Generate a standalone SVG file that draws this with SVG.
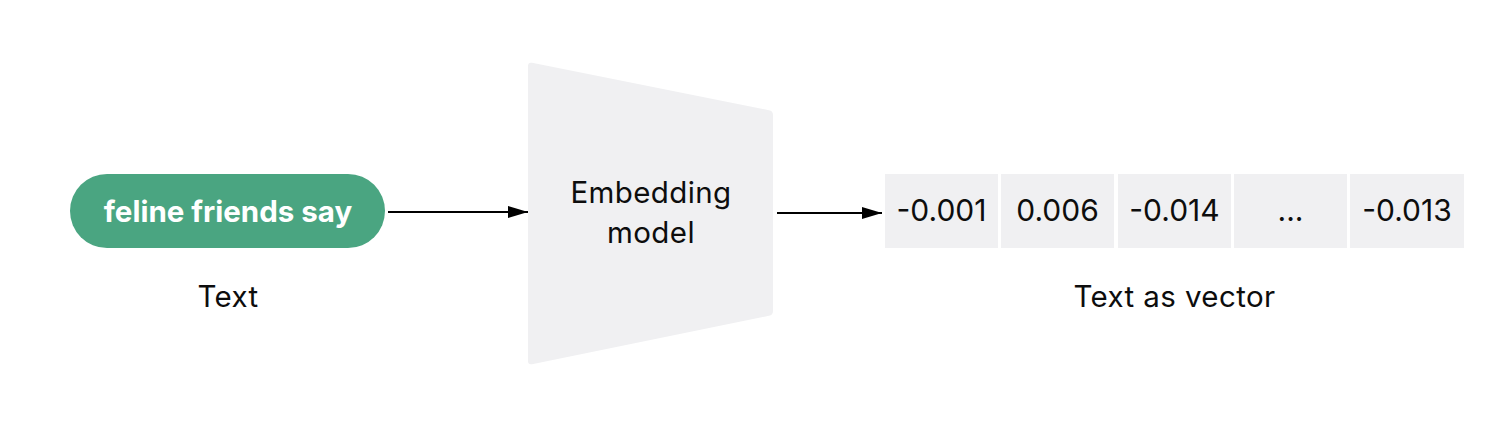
<svg xmlns="http://www.w3.org/2000/svg" width="1494" height="436" viewBox="0 0 1494 436">
  <style>
    .lbl { font-family: Inter, "Noto Sans", "Liberation Sans", sans-serif; font-size: 29.5px; letter-spacing: 0.4px; fill: #0d0d0d; text-anchor: middle; }
    .num { font-family: Inter, "Noto Sans", "Liberation Sans", sans-serif; font-size: 30px; fill: #0d0d0d; text-anchor: middle; }
    .pilltxt { font-family: Inter, "Noto Sans", "Liberation Sans", sans-serif; font-size: 29.5px; font-weight: 700; fill: #ffffff; text-anchor: middle; }
    .cell { fill: #f0f0f2; }
    .conn { stroke: #000; stroke-width: 2; fill: none; }
  </style>
  <defs>
    <marker id="arrow" viewBox="0 0 20 12" refX="20" refY="6" markerWidth="20" markerHeight="12" markerUnits="userSpaceOnUse" orient="auto">
      <path d="M0,0 L20,6 L0,12 Z" fill="#000"/>
    </marker>
  </defs>
  <rect width="1494" height="436" fill="#ffffff"/>

  <g id="input-text">
    <rect x="70" y="174" width="315" height="74" rx="37" ry="37" fill="#4aa581"/>
    <text class="pilltxt" x="228" y="222">feline friends say</text>
    <text class="lbl" x="228" y="307">Text</text>
  </g>

  <g id="embedding-model">
    <path d="M532,62.8 L769,110.2 Q773,111 773,115 L773,311 Q773,315 769,315.8 L532,364.2 Q528,365 528,361 L528,66 Q528,62 532,62.8 Z" fill="#f0f0f2"/>
    <text class="lbl" x="651" y="203">Embedding</text>
    <text class="lbl" x="651" y="243">model</text>
  </g>

  <g id="vector">
    <rect class="cell" x="885" y="174" width="113" height="74"/>
    <rect class="cell" x="1001" y="174" width="113" height="74"/>
    <rect class="cell" x="1118" y="174" width="113" height="74"/>
    <rect class="cell" x="1234" y="174" width="113" height="74"/>
    <rect class="cell" x="1350" y="174" width="114" height="74"/>
    <text class="num" x="941.5" y="221">-0.001</text>
    <text class="num" x="1057.5" y="221">0.006</text>
    <text class="num" x="1174.5" y="221">-0.014</text>
    <text class="num" x="1290.5" y="221" font-size="22">...</text>
    <text class="num" x="1407" y="221">-0.013</text>
    <text class="lbl" x="1174.5" y="307">Text as vector</text>
  </g>

  <g id="connectors">
    <line class="conn" x1="388" y1="212" x2="528" y2="212" marker-end="url(#arrow)"/>
    <line class="conn" x1="777" y1="213" x2="882" y2="213" marker-end="url(#arrow)"/>
  </g>
</svg>
